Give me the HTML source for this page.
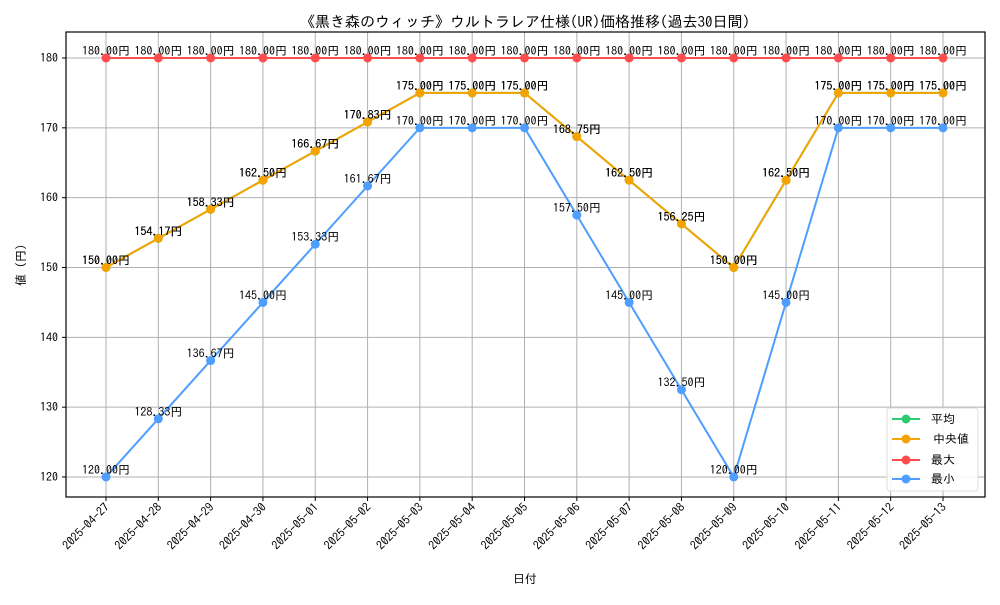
<!DOCTYPE html>
<html><head><meta charset="utf-8"><style>
body{margin:0;background:#fff}
svg{font-family:"IPAGothic","Liberation Sans","Noto Sans CJK JP",sans-serif}
</style></head><body>
<svg id="chart" width="1000" height="600" xmlns="http://www.w3.org/2000/svg">
<rect width="1000" height="600" fill="#fff"/>
<text x="525" y="27" font-size="15" text-anchor="middle">《黒き森のウィッチ》ウルトラレア仕様(UR)価格推移(過去30日間)</text>
<g id="grid"></g>
<g id="axes"></g>
<g id="series"></g>
<rect x="66" y="32" width="919" height="465" fill="none" stroke="#000" stroke-width="1.2"/>
<text x="525" y="583" font-size="12" text-anchor="middle">日付</text>
<text transform="translate(25,265) rotate(-90)" font-size="12" text-anchor="middle">値 (円)</text>
<g>
<rect x="887" y="408" width="91" height="83" rx="3" fill="#fff" fill-opacity="0.85" stroke="#ddd"/>
<g><line x1="892" y1="419" x2="920" y2="419" stroke="#2ecc71" stroke-width="2"/><circle cx="906" cy="419" r="4.5" fill="#2ecc71"/><text x="931" y="423" font-size="12">平均</text></g>
<g><line x1="892" y1="439" x2="920" y2="439" stroke="#f5a300" stroke-width="2"/><circle cx="906" cy="439" r="4.5" fill="#f5a300"/><text x="933" y="443" font-size="12">中央値</text></g>
<g><line x1="892" y1="460" x2="920" y2="460" stroke="#ff4d4d" stroke-width="2"/><circle cx="906" cy="460" r="4.5" fill="#ff4d4d"/><text x="931" y="464" font-size="12">最大</text></g>
<g><line x1="892" y1="479" x2="920" y2="479" stroke="#4d9eff" stroke-width="2"/><circle cx="906" cy="479" r="4.5" fill="#4d9eff"/><text x="931" y="483" font-size="12">最小</text></g>
</g>
</svg>
<script>
const dates=["2025-04-27","2025-04-28","2025-04-29","2025-04-30","2025-05-01","2025-05-02","2025-05-03","2025-05-04","2025-05-05","2025-05-06","2025-05-07","2025-05-08","2025-05-09","2025-05-10","2025-05-11","2025-05-12","2025-05-13"];
const meanVals=[150,154.17,158.33,162.5,166.67,170.83,175,175,175,168.75,162.5,156.25,150,162.5,175,175,175];
const medianVals=[150,154.17,158.33,162.5,166.67,170.83,175,175,175,168.75,162.5,156.25,150,162.5,175,175,175];
const maxVals=[180,180,180,180,180,180,180,180,180,180,180,180,180,180,180,180,180];
const minVals=[120,128.33,136.67,145,153.33,161.67,170,170,170,157.5,145,132.5,120,145,170,170,170];
const yTicks=[120,130,140,150,160,170,180];
const NS="http://www.w3.org/2000/svg";
const x=i=>106+i*(943-106)/(dates.length-1);
const y=v=>477-(v-120)*(477-58)/60;
function mk(tag,attrs,parent){const e=document.createElementNS(NS,tag);for(const k in attrs)e.setAttribute(k,attrs[k]);parent.appendChild(e);return e;}
const grid=document.getElementById('grid'),axes=document.getElementById('axes'),ser=document.getElementById('series');
yTicks.forEach(t=>{
 const l=mk('line',{x1:66,x2:985,y1:y(t),y2:y(t),stroke:'#b0b0b0','stroke-width':1},grid);
 
 
 mk('line',{x1:62,x2:66,y1:y(t),y2:y(t),stroke:'#000'},axes);
 const tx=mk('text',{x:58,y:y(t)+4,'font-size':12,'text-anchor':'end'},axes);
 tx.textContent=t;
 
 
});
dates.forEach((d,i)=>{
 const l=mk('line',{x1:x(i),x2:x(i),y1:32,y2:497,stroke:'#b0b0b0','stroke-width':1},grid);
 
 
 mk('line',{x1:x(i),x2:x(i),y1:497,y2:501,stroke:'#000'},axes);
 const tx=mk('text',{transform:`translate(${x(i)+4},508) rotate(-45)`,'font-size':12,'text-anchor':'end'},axes);
 tx.textContent=d;
 
 
});
function series(vals,color,name){
 const g=mk('g',{},ser);
 
 
 const p=mk('polyline',{points:vals.map((v,i)=>x(i)+','+y(v)).join(' '),fill:'none',stroke:color,'stroke-width':2},g);
 
 
 vals.forEach((v,i)=>{
  const c=mk('circle',{cx:x(i),cy:y(v),r:4.5,fill:color},g);
  
  
  const t=mk('text',{x:x(i),y:y(v)-3,'font-size':12,'text-anchor':'middle'},g);
  t.textContent=v.toFixed(2)+'円';
  
  
 });
}
series(meanVals,'#2ecc71','mean');
series(medianVals,'#f5a300','median');
series(maxVals,'#ff4d4d','max');
series(minVals,'#4d9eff','min');
</script>
</body></html>
